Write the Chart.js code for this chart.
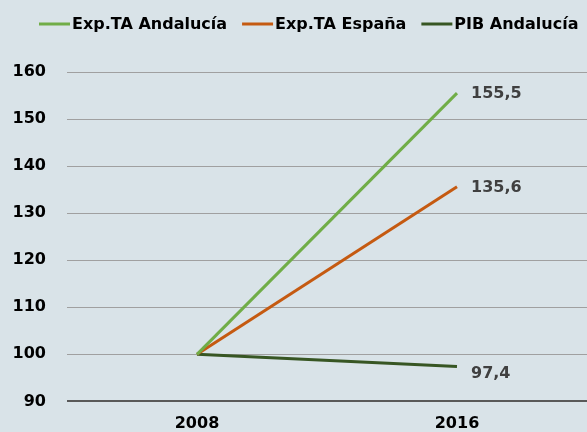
<!DOCTYPE html>
<html>
<head>
<meta charset="utf-8">
<script src="https://cdn.jsdelivr.net/npm/chart.js@4"></script>
<style>
  html, body { margin: 0; padding: 0; background: #d9e3e8; }
  #wrap { width: 587px; height: 432px; }
</style>
</head>
<body>
<div id="wrap"><canvas id="chart" width="587" height="432"></canvas></div>
<script>
// Datos del gráfico
const years = ['2008', '2016'];
const expAndalucia = [100, 155.5];
const expEspana = [100, 135.6];
const pibAndalucia = [100, 97.4];
const seriesNames = ['Exp.TA Andalucía', 'Exp.TA España', 'PIB Andalucía'];
const yTicks = [90, 100, 110, 120, 130, 140, 150, 160];

const colors = ['#70ad47', '#c55a11', '#375623'];
const FONT = "'DejaVu Sans', sans-serif";

// Leyenda dibujada a mano (línea corta + texto pegado)
const legendPlugin = {
    id: 'lineLegend',
    afterDraw(chart) {
        const ctx = chart.ctx;
        ctx.save();
        ctx.font = 'bold 16px ' + FONT;
        ctx.textBaseline = 'middle';
        let x = 39;
        const y = 24;
        chart.data.datasets.forEach(function(ds) {
            ctx.strokeStyle = ds.borderColor;
            ctx.lineWidth = 3;
            ctx.beginPath();
            ctx.moveTo(x, y);
            ctx.lineTo(x + 31, y);
            ctx.stroke();
            x += 33;
            ctx.fillStyle = '#000';
            ctx.fillText(ds.label, x, y + 1);
            x += ctx.measureText(ds.label).width + 15;
        });
        ctx.restore();
    }
};

// Etiquetas del último punto de cada serie
const endLabels = {
    id: 'endLabels',
    afterDatasetsDraw(chart) {
        const ctx = chart.ctx;
        ctx.save();
        ctx.font = 'bold 16px ' + FONT;
        ctx.fillStyle = '#404040';
        ctx.textBaseline = 'middle';
        chart.data.datasets.forEach(function(ds, i) {
            const pts = chart.getDatasetMeta(i).data;
            const last = pts[pts.length - 1];
            const v = ds.data[ds.data.length - 1];
            ctx.fillText(v.toFixed(1).replace('.', ','), last.x + 14, last.y + 1 + (ds.labelDy || 0));
        });
        ctx.restore();
    }
};

new Chart(document.getElementById('chart'), {
    type: 'line',
    data: {
        labels: years,
        datasets: [
            { label: seriesNames[0], data: expAndalucia, borderColor: colors[0] },
            { label: seriesNames[1], data: expEspana, borderColor: colors[1] },
            { label: seriesNames[2], data: pibAndalucia, borderColor: colors[2], labelDy: 6 }
        ].map(function(ds) {
            return Object.assign({ borderWidth: 3, pointRadius: 0, tension: 0, fill: false }, ds);
        })
    },
    options: {
        responsive: false,
        animation: false,
        layout: { padding: { top: 72, left: 0, right: 0, bottom: 0 } },
        plugins: {
            legend: { display: false },
            tooltip: { enabled: false }
        },
        scales: {
            x: {
                offset: true,
                afterFit: function(scale) { scale.height = 28; },
                grid: { display: false, drawTicks: false },
                border: { display: false },
                ticks: {
                    padding: 13,
                    color: '#000',
                    font: { family: FONT, size: 16, weight: 'bold' }
                }
            },
            y: {
                min: 90,
                max: 160,
                afterFit: function(scale) { scale.width = 67; },
                afterBuildTicks: function(scale) {
                    scale.ticks = yTicks.map(function(v) { return { value: v }; });
                },
                grid: {
                    drawTicks: false,
                    color: function(c) { return c.tick && c.tick.value === 90 ? '#595959' : '#a0a0a0'; },
                    lineWidth: function(c) { return c.tick && c.tick.value === 90 ? 2 : 1; }
                },
                border: { display: false },
                ticks: {
                    padding: 21,
                    color: '#000',
                    font: { family: FONT, size: 16, weight: 'bold' }
                }
            }
        }
    },
    plugins: [legendPlugin, endLabels]
});
</script>
</body>
</html>
